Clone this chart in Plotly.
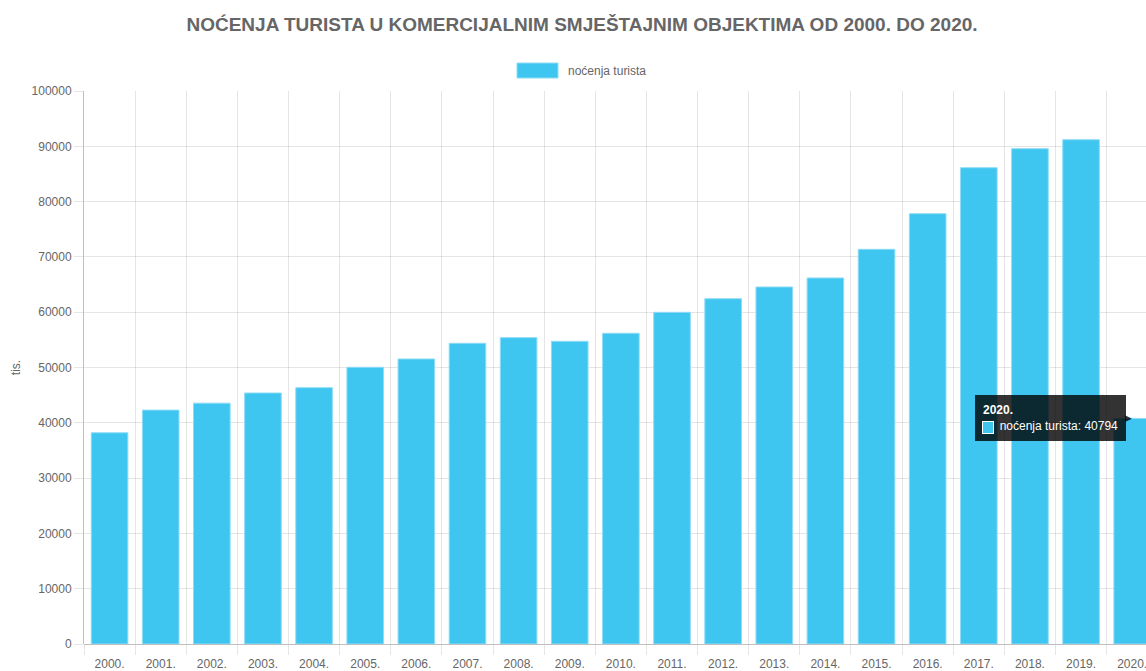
import plotly.graph_objects as go

years = ["2000.", "2001.", "2002.", "2003.", "2004.", "2005.", "2006.", "2007.",
         "2008.", "2009.", "2010.", "2011.", "2012.", "2013.", "2014.", "2015.",
         "2016.", "2017.", "2018.", "2019.", "2020."]
nocenja = [38200, 42300, 43550, 45390, 46350, 50040, 51540, 54380,
           55400, 54740, 56190, 59980, 62440, 64560, 66190, 71370,
           77810, 86130, 89570, 91190, 40794]
series_name = "noćenja turista"
title_text = "NOĆENJA TURISTA U KOMERCIJALNIM SMJEŠTAJNIM OBJEKTIMA OD 2000. DO 2020."
y_title = "tis."

BAR = "#3ec5f0"
GRID = "rgba(0,0,0,0.1)"
AXIS = "rgba(0,0,0,0.25)"
TXT = "#666666"
FONT = "Liberation Sans, Arial, Helvetica, sans-serif"

W, H = 1146, 671
L, T, B = 84, 91, 27

fig = go.Figure()
fig.add_trace(go.Bar(
    x=years, y=nocenja, name=series_name,
    marker=dict(color=BAR, line=dict(color="#8fdcf6", width=1)),
    showlegend=False, hoverinfo="skip",
))

fig.update_layout(
    width=W, height=H,
    margin=dict(l=L, r=0, t=T, b=B, pad=0),
    paper_bgcolor="white", plot_bgcolor="white",
    font=dict(family=FONT, size=12, color=TXT),
    bargap=0.284,
    title=dict(text="<b>" + title_text + "</b>", x=582 / W, xref="container",
               xanchor="center", y=1 - 24 / H, yref="container", yanchor="middle",
               font=dict(family=FONT, size=19, color=TXT)),
    xaxis=dict(
        type="category", range=[-0.5, 20.27], tickson="boundaries",
        showgrid=True, gridcolor=GRID, gridwidth=1,
        ticks="outside", ticklen=10, tickcolor=GRID, tickwidth=1,
        ticklabelstandoff=11,
        showline=False, zeroline=False, automargin=False,
        tickfont=dict(family=FONT, size=12, color=TXT),
        fixedrange=True,
    ),
    yaxis=dict(
        range=[0, 100000], dtick=10000, tickformat="d",
        showgrid=True, gridcolor=GRID, gridwidth=1,
        ticks="outside", ticklen=9, tickcolor=GRID, tickwidth=1,
        showline=True, linecolor=AXIS, linewidth=1,
        zeroline=True, zerolinecolor=AXIS, zerolinewidth=1,
        automargin=False,
        title=dict(text=y_title, font=dict(family=FONT, size=12, color=TXT), standoff=8),
        tickfont=dict(family=FONT, size=12, color=TXT),
        fixedrange=True,
    ),
)

# legend (Chart.js style box + label), positions given in page pixels
pw = W - L
ph = H - T - B
def px(xp):
    return (xp - L) / pw
def py(yp):
    return 1 + (T - yp) / ph

fig.add_shape(type="rect", xref="paper", yref="paper",
              x0=px(517), x1=px(558), y0=py(78), y1=py(63),
              fillcolor=BAR, line=dict(color="#8fdcf6", width=1))
fig.add_annotation(xref="paper", yref="paper", x=px(566), y=py(71),
                   xanchor="left", yanchor="middle", showarrow=False,
                   text=series_name, font=dict(family=FONT, size=12, color=TXT))

# tooltip on the last bar
last = len(years) - 1
tip_text = ("<b>" + years[last] + "</b><br>" + "\u00a0" * 5
            + series_name + ": " + str(nocenja[last]))
fig.add_annotation(x=last, y=nocenja[last], xref="x", yref="y",
                   xanchor="right", yanchor="middle", xshift=-6,
                   showarrow=False, align="left", text=tip_text,
                   bgcolor="rgba(0,0,0,0.8)", borderpad=8, borderwidth=0,
                   font=dict(family=FONT, size=12, color="white"))
fig.add_annotation(x=last, y=nocenja[last], xref="x", yref="y",
                   xanchor="right", yanchor="middle", xshift=2,
                   showarrow=False, text="▶",
                   font=dict(family=FONT, size=9, color="rgba(0,0,0,0.8)"))
# colour swatch inside the tooltip
fig.add_annotation(x=last, y=nocenja[last], xref="x", yref="y",
                   xanchor="center", yanchor="middle", xshift=-144, yshift=-9,
                   showarrow=False, text="", width=10, height=11,
                   bgcolor=BAR, bordercolor="white", borderwidth=1, borderpad=0)

fig.write_html(
    "out.html", config={"displayModeBar": False},
    post_script=("document.documentElement.style.margin='0';"
                 "document.body.style.margin='0';"
                 "document.documentElement.style.overflow='hidden';"
                 "document.body.style.overflow='hidden';"),
)
